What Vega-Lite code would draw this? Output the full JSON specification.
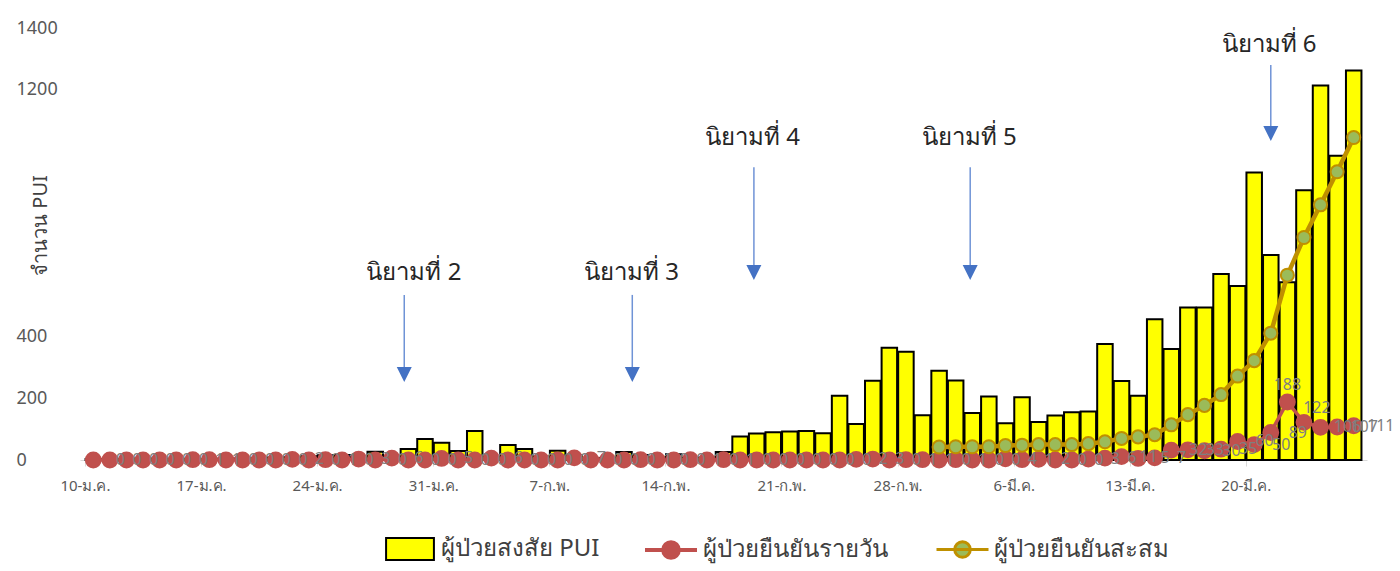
{
  "$schema": "https://vega.github.io/schema/vega-lite/v6.json",
  "width": 1287,
  "height": 432,
  "autosize": "none",
  "padding": {"left": 80, "top": 28, "right": 33, "bottom": 111},
  "background": "white",
  "config": {"view": {"stroke": null}, "font": "Noto Sans"},
  "datasets": {
    "main": [
      {"date": "2020-01-10", "pui": 3, "daily": 0},
      {"date": "2020-01-11", "pui": 2, "daily": 0},
      {"date": "2020-01-12", "pui": 2, "daily": 0},
      {"date": "2020-01-13", "pui": 5, "daily": 0},
      {"date": "2020-01-14", "pui": 3, "daily": 0},
      {"date": "2020-01-15", "pui": 2, "daily": 0},
      {"date": "2020-01-16", "pui": 4, "daily": 1},
      {"date": "2020-01-17", "pui": 3, "daily": 1},
      {"date": "2020-01-18", "pui": 5, "daily": 0},
      {"date": "2020-01-19", "pui": 4, "daily": 0},
      {"date": "2020-01-20", "pui": 6, "daily": 0},
      {"date": "2020-01-21", "pui": 8, "daily": 0},
      {"date": "2020-01-22", "pui": 9, "daily": 2},
      {"date": "2020-01-23", "pui": 12, "daily": 0},
      {"date": "2020-01-24", "pui": 15, "daily": 1},
      {"date": "2020-01-25", "pui": 16, "daily": 0},
      {"date": "2020-01-26", "pui": 8, "daily": 3},
      {"date": "2020-01-27", "pui": 27, "daily": 0},
      {"date": "2020-01-28", "pui": 12, "daily": 6},
      {"date": "2020-01-29", "pui": 36, "daily": 0},
      {"date": "2020-01-30", "pui": 68, "daily": 0},
      {"date": "2020-01-31", "pui": 56, "daily": 5},
      {"date": "2020-02-01", "pui": 29, "daily": 0},
      {"date": "2020-02-02", "pui": 94, "daily": 0},
      {"date": "2020-02-03", "pui": 8, "daily": 6},
      {"date": "2020-02-04", "pui": 49, "daily": 0},
      {"date": "2020-02-05", "pui": 36, "daily": 0},
      {"date": "2020-02-06", "pui": 11, "daily": 0},
      {"date": "2020-02-07", "pui": 30, "daily": 0},
      {"date": "2020-02-08", "pui": 16, "daily": 7},
      {"date": "2020-02-09", "pui": 5, "daily": 0},
      {"date": "2020-02-10", "pui": 6, "daily": 0},
      {"date": "2020-02-11", "pui": 26, "daily": 0},
      {"date": "2020-02-12", "pui": 16, "daily": 1},
      {"date": "2020-02-13", "pui": 8, "daily": 0},
      {"date": "2020-02-14", "pui": 19, "daily": 0},
      {"date": "2020-02-15", "pui": 6, "daily": 1},
      {"date": "2020-02-16", "pui": 8, "daily": 0},
      {"date": "2020-02-17", "pui": 26, "daily": 1},
      {"date": "2020-02-18", "pui": 76, "daily": 0},
      {"date": "2020-02-19", "pui": 86, "daily": 0},
      {"date": "2020-02-20", "pui": 90, "daily": 0},
      {"date": "2020-02-21", "pui": 92, "daily": 0},
      {"date": "2020-02-22", "pui": 94, "daily": 0},
      {"date": "2020-02-23", "pui": 87, "daily": 0},
      {"date": "2020-02-24", "pui": 208, "daily": 0},
      {"date": "2020-02-25", "pui": 117, "daily": 2},
      {"date": "2020-02-26", "pui": 257, "daily": 3},
      {"date": "2020-02-27", "pui": 364, "daily": 0},
      {"date": "2020-02-28", "pui": 351, "daily": 1},
      {"date": "2020-02-29", "pui": 145, "daily": 1},
      {"date": "2020-03-01", "pui": 289, "daily": 0, "cum": 42},
      {"date": "2020-03-02", "pui": 258, "daily": 1, "cum": 43},
      {"date": "2020-03-03", "pui": 152, "daily": 0, "cum": 43},
      {"date": "2020-03-04", "pui": 206, "daily": 0, "cum": 43},
      {"date": "2020-03-05", "pui": 119, "daily": 4, "cum": 47},
      {"date": "2020-03-06", "pui": 203, "daily": 1, "cum": 48},
      {"date": "2020-03-07", "pui": 123, "daily": 2, "cum": 50},
      {"date": "2020-03-08", "pui": 144, "daily": 0, "cum": 50},
      {"date": "2020-03-09", "pui": 155, "daily": 0, "cum": 50},
      {"date": "2020-03-10", "pui": 157, "daily": 3, "cum": 53},
      {"date": "2020-03-11", "pui": 376, "daily": 6, "cum": 59},
      {"date": "2020-03-12", "pui": 256, "daily": 11, "cum": 70},
      {"date": "2020-03-13", "pui": 208, "daily": 5, "cum": 75},
      {"date": "2020-03-14", "pui": 456, "daily": 7, "cum": 82},
      {"date": "2020-03-15", "pui": 360, "daily": 32, "cum": 114},
      {"date": "2020-03-16", "pui": 494, "daily": 33, "cum": 147},
      {"date": "2020-03-17", "pui": 494, "daily": 30, "cum": 177},
      {"date": "2020-03-18", "pui": 603, "daily": 35, "cum": 212},
      {"date": "2020-03-19", "pui": 564, "daily": 60, "cum": 272},
      {"date": "2020-03-20", "pui": 932, "daily": 50, "cum": 322},
      {"date": "2020-03-21", "pui": 664, "daily": 89, "cum": 411},
      {"date": "2020-03-22", "pui": 576, "daily": 188, "cum": 599},
      {"date": "2020-03-23", "pui": 874, "daily": 122, "cum": 721},
      {"date": "2020-03-24", "pui": 1214, "daily": 106, "cum": 827},
      {"date": "2020-03-25", "pui": 986, "daily": 107, "cum": 934},
      {"date": "2020-03-26", "pui": 1262, "daily": 111, "cum": 1045}
    ],
    "ann": [
      {"label": "นิยามที่ 2", "arrowDate": "2020-01-28T18:00:00Z", "textDate": "2020-01-29T08:00:00Z", "textY": 606, "top": 535, "head": 277},
      {"label": "นิยามที่ 3", "arrowDate": "2020-02-11T12:00:00Z", "textDate": "2020-02-11T11:00:00Z", "textY": 606, "top": 535, "head": 277},
      {"label": "นิยามที่ 4", "arrowDate": "2020-02-18T20:00:00Z", "textDate": "2020-02-18T18:00:00Z", "textY": 1043, "top": 949, "head": 608},
      {"label": "นิยามที่ 5", "arrowDate": "2020-03-02T21:00:00Z", "textDate": "2020-03-02T19:30:00Z", "textY": 1043, "top": 949, "head": 608},
      {"label": "นิยามที่ 6", "arrowDate": "2020-03-21T00:00:00Z", "textDate": "2020-03-20T21:30:00Z", "textY": 1345, "top": 1280, "head": 1058}
    ]
  },
  "data": {"name": "main"},
  "encoding": {
    "x": {
      "field": "date",
      "type": "temporal",
      "scale": {
        "type": "utc",
        "domain": [
          {"year": 2020, "month": 1, "date": 9, "hours": 12, "utc": true},
          {"year": 2020, "month": 3, "date": 26, "hours": 12, "utc": true}
        ]
      },
      "axis": {
        "title": null,
        "grid": false,
        "values": [
          {"year": 2020, "month": 1, "date": 10, "utc": true},
          {"year": 2020, "month": 1, "date": 17, "utc": true},
          {"year": 2020, "month": 1, "date": 24, "utc": true},
          {"year": 2020, "month": 1, "date": 31, "utc": true},
          {"year": 2020, "month": 2, "date": 7, "utc": true},
          {"year": 2020, "month": 2, "date": 14, "utc": true},
          {"year": 2020, "month": 2, "date": 21, "utc": true},
          {"year": 2020, "month": 2, "date": 28, "utc": true},
          {"year": 2020, "month": 3, "date": 6, "utc": true},
          {"year": 2020, "month": 3, "date": 13, "utc": true},
          {"year": 2020, "month": 3, "date": 20, "utc": true},
          {"year": 2020, "month": 3, "date": 27, "utc": true}
        ],
        "labelExpr": "(utcmonth(datum.value) == 2 && utcdate(datum.value) == 27) ? '' : utcdate(datum.value) + '-' + (utcmonth(datum.value) == 0 ? 'ม.ค.' : utcmonth(datum.value) == 1 ? 'ก.พ.' : 'มี.ค.')",
        "tickOffset": -8.35,
        "tickSize": 6,
        "tickColor": "#d9d9d9",
        "domainColor": "#d9d9d9",
        "labelFontSize": 15,
        "labelColor": "#595959",
        "labelPadding": 12,
        "labelBaseline": "top",
        "labelOverlap": false,
        "labelFlush": false
      }
    }
  },
  "layer": [
    {
      "mark": {"type": "bar", "stroke": "black", "strokeWidth": 2, "size": 15.5},
      "encoding": {
        "y": {
          "field": "pui",
          "type": "quantitative",
          "scale": {"domain": [0, 1400], "nice": false},
          "axis": {
            "values": [0, 200, 400, 1200, 1400],
            "format": "d",
            "grid": false,
            "domain": false,
            "ticks": false,
            "labelAlign": "left",
            "labelPadding": 64,
            "labelFontSize": 18,
            "labelColor": "#595959",
            "title": "จำนวน PUI",
            "titleFontSize": 20,
            "titleFontWeight": "normal",
            "titleColor": "#404040",
            "titleX": -40,
            "titleY": 197,
            "titleAngle": 270,
            "titleAlign": "center",
            "titleBaseline": "middle"
          }
        },
        "fill": {
          "datum": "ผู้ป่วยสงสัย PUI",
          "type": "nominal",
          "scale": {"range": ["#FFFF00"]},
          "legend": {
            "title": null,
            "orient": "none",
            "legendX": 303,
            "legendY": 494,
            "symbolType": "M-0.92,-0.42H0.92V0.42H-0.92Z",
            "symbolSize": 2704,
            "symbolStrokeColor": "black",
            "symbolStrokeWidth": 2,
            "labelFontSize": 24,
            "labelColor": "#404040",
            "labelOffset": 4,
            "labelLimit": 0
          }
        }
      }
    },
    {
      "mark": {"type": "line", "strokeWidth": 3.5, "color": "#C0504D"},
      "encoding": {
        "y": {"field": "daily", "type": "quantitative"}
      }
    },
    {
      "mark": {"type": "point", "filled": true, "color": "#C0504D", "size": 220, "opacity": 1},
      "encoding": {
        "y": {"field": "daily", "type": "quantitative"},
        "stroke": {
          "datum": "ผู้ป่วยยืนยันรายวัน",
          "type": "nominal",
          "scale": {"range": ["#C0504D"]},
          "legend": {
            "title": null,
            "orient": "none",
            "legendX": 563,
            "legendY": 494,
            "symbolType": "M-1,0H1M0.3,0C0.3,0.166 0.166,0.3 0,0.3C-0.166,0.3 -0.3,0.166 -0.3,0C-0.3,-0.166 -0.166,-0.3 0,-0.3C0.166,-0.3 0.3,-0.166 0.3,0Z",
            "symbolSize": 2704,
            "symbolFillColor": "#C0504D",
            "symbolStrokeWidth": 4,
            "labelFontSize": 24,
            "labelColor": "#404040",
            "labelOffset": 4,
            "labelLimit": 0
          }
        }
      }
    },
    {
      "transform": [{"filter": "isValid(datum.cum)"}],
      "mark": {"type": "line", "strokeWidth": 4.5, "color": "#BF9000"},
      "encoding": {
        "y": {"field": "cum", "type": "quantitative"}
      }
    },
    {
      "transform": [{"filter": "isValid(datum.cum)"}],
      "mark": {"type": "point", "filled": false, "fill": "#9BBB59", "strokeWidth": 2, "size": 170, "opacity": 1},
      "encoding": {
        "y": {"field": "cum", "type": "quantitative"},
        "color": {
          "datum": "ผู้ป่วยยืนยันสะสม",
          "type": "nominal",
          "scale": {"range": ["#BF9000"]},
          "legend": {
            "title": null,
            "orient": "none",
            "legendX": 855,
            "legendY": 494,
            "symbolType": "M-1,0H1M0.3,0C0.3,0.166 0.166,0.3 0,0.3C-0.166,0.3 -0.3,0.166 -0.3,0C-0.3,-0.166 -0.166,-0.3 0,-0.3C0.166,-0.3 0.3,-0.166 0.3,0Z",
            "symbolSize": 2704,
            "symbolFillColor": "#9BBB59",
            "symbolStrokeWidth": 3,
            "labelFontSize": 24,
            "labelColor": "#404040",
            "labelOffset": 4,
            "labelLimit": 0
          }
        }
      }
    },
    {
      "transform": [{"filter": "datum.daily != 188 && datum.daily != 122"}],
      "mark": {"type": "text", "dx": 27, "fontSize": 16, "color": "#7F7F7F", "baseline": "middle", "align": "center"},
      "encoding": {
        "y": {"field": "daily", "type": "quantitative"},
        "text": {"field": "daily", "type": "quantitative"}
      }
    },
    {
      "transform": [{"filter": "datum.daily == 188"}],
      "mark": {"type": "text", "dy": -17, "fontSize": 16, "color": "#7F7F7F", "baseline": "middle", "align": "center"},
      "encoding": {
        "y": {"field": "daily", "type": "quantitative"},
        "text": {"field": "daily", "type": "quantitative"}
      }
    },
    {
      "transform": [{"filter": "datum.daily == 122"}],
      "mark": {"type": "text", "dx": 13, "dy": -14, "fontSize": 16, "color": "#7F7F7F", "baseline": "middle", "align": "center"},
      "encoding": {
        "y": {"field": "daily", "type": "quantitative"},
        "text": {"field": "daily", "type": "quantitative"}
      }
    },
    {
      "data": {"name": "ann"},
      "mark": {"type": "rule", "color": "#6F93D6", "strokeWidth": 1.5},
      "encoding": {
        "x": {"field": "arrowDate", "type": "temporal"},
        "y": {"field": "top", "type": "quantitative"},
        "y2": {"field": "head"}
      }
    },
    {
      "data": {"name": "ann"},
      "mark": {"type": "point", "shape": "M-1,-1L1,-1L0,1Z", "filled": true, "color": "#4472C4", "size": 225, "opacity": 1},
      "encoding": {
        "x": {"field": "arrowDate", "type": "temporal"},
        "y": {"field": "head", "type": "quantitative"}
      }
    },
    {
      "data": {"name": "ann"},
      "mark": {"type": "text", "fontSize": 24, "color": "#262626", "baseline": "middle", "align": "center"},
      "encoding": {
        "x": {"field": "textDate", "type": "temporal"},
        "y": {"field": "textY", "type": "quantitative"},
        "text": {"field": "label"}
      }
    }
  ]
}
